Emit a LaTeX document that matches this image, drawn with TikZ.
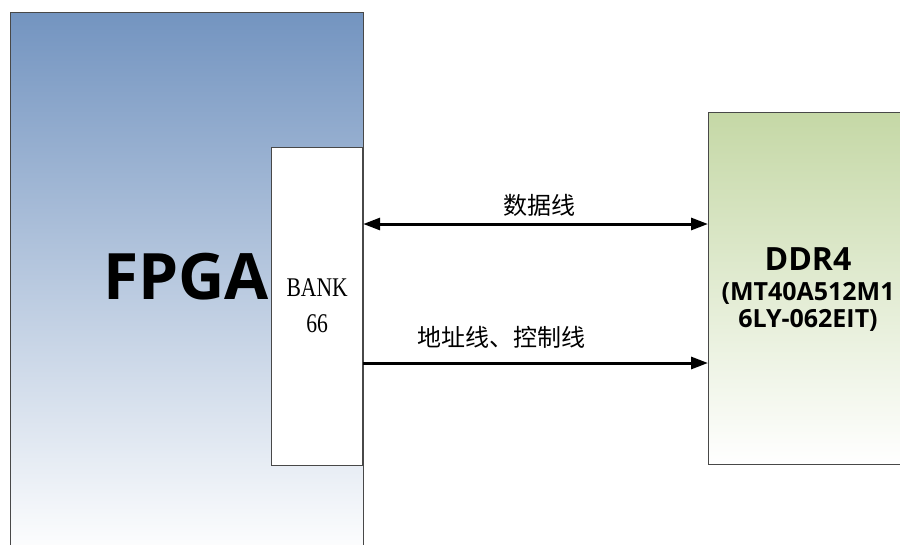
\documentclass[tikz,border=0pt]{standalone}
\usepackage{fontspec}
\setmainfont{Liberation Serif}
\newfontfamily\headfont{Open Sans}
\newfontfamily\bankfont{Liberation Serif}[FakeStretch=0.8]
\newfontfamily\cjkfont{Noto Sans CJK SC}
\usetikzlibrary{arrows.meta}
\definecolor{fpgablue}{RGB}{115,148,192}
\definecolor{ddrgreen}{RGB}{197,216,166}
\definecolor{edgegray}{RGB}{72,72,72}
\tikzset{
	chip/.style={draw=edgegray, line width=1.2pt, inner sep=0pt, anchor=north west},
	bus/.style={line width=3pt},
	buslabel/.style={font=\cjkfont\fontsize{24}{24}\selectfont, inner sep=0pt},
	>={Triangle[length=17pt,width=12pt]}
}

\begin{document}
\begin{tikzpicture}[x=1pt,y=-1pt]
		%%%%% START %%%%%
		\useasboundingbox (0,0) rectangle (900,544);
		\clip (0,0) rectangle (900,544);
		
		\node[chip, top color=fpgablue, bottom color=white, minimum width=353pt, minimum height=545pt] (fpga) at (9.5,11.5) {};
		\node[chip, fill=white, minimum width=91pt, minimum height=318pt] (bank) at (271,146.5) {};
		\node[chip, top color=ddrgreen, bottom color=white, minimum width=200pt, minimum height=352pt] (ddr) at (708,112) {};
		
		\node[font=\headfont\bfseries\fontsize{64}{64}\selectfont, inner sep=0pt] (fpganame) at (186,276.5) {FPGA};
		\node[font=\bankfont\fontsize{27}{36}\selectfont, align=center, inner sep=0pt] (bankname) at (bank.center) {BANK\\66};
		\node[font=\headfont\bfseries, align=center, text width=190pt, inner sep=0pt] (ddrname) at (808,289.5)
			{\fontsize{32}{32}\selectfont DDR4\par
			 \fontsize{25}{30}\selectfont (MT40A512M1\par
			 \fontsize{25}{27}\selectfont 6LY-062EIT)\par};
		
		\coordinate (dq) at (0,224);
		\coordinate (ctl) at (0,363);
		\draw[bus, <->] (bank.east |- dq) -- (ddr.west |- dq)
			node[buslabel, pos=0.51, yshift=19pt] (dqlabel) {数据线};
		\draw[bus, ->] (bank.east |- ctl) -- (ddr.west |- ctl)
			node[buslabel, pos=0.4, yshift=25.5pt] (ctllabel) {地址线、控制线};
		
		%%%%% END %%%%%
\end{tikzpicture}
\end{document}
